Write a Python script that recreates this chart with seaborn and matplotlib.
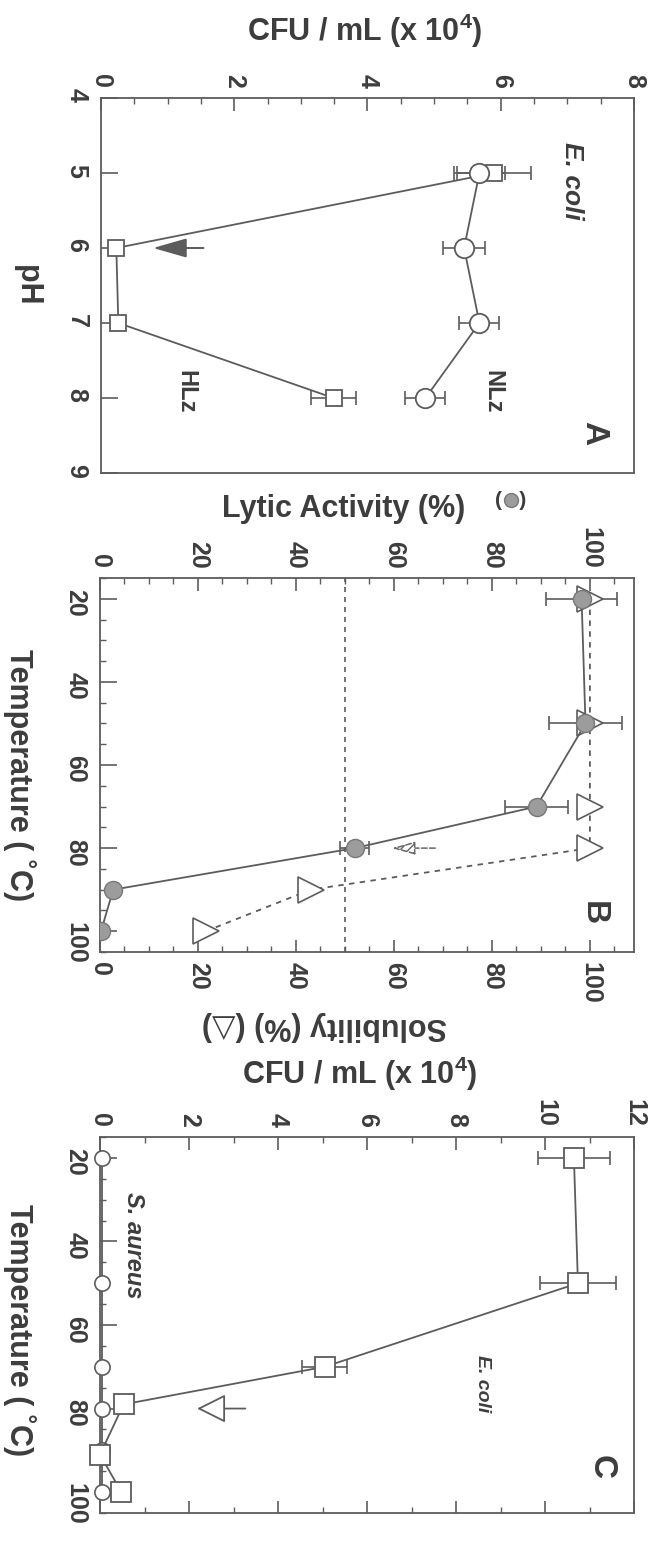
import matplotlib
matplotlib.use('Agg')
import matplotlib.pyplot as plt
import seaborn as sns
from matplotlib.lines import Line2D
from matplotlib.ticker import MultipleLocator

sns.set_style('ticks')
plt.rcParams['font.family'] = ['Liberation Sans', 'DejaVu Sans']
plt.rcParams['font.weight'] = 'bold'
plt.rcParams['mathtext.fontset'] = 'custom'
plt.rcParams['mathtext.rm'] = 'Liberation Sans:bold'
plt.rcParams['mathtext.bf'] = 'Liberation Sans:bold'
plt.rcParams['mathtext.default'] = 'bf'

INK = '#3d3d3d'
LINE = '#5c5c5c'
DOT = '#9c9c9c'

# Panel A : CFU vs pH
ph = [5, 6, 7, 8]
hlz_cfu = [5.90, 0.23, 0.26, 3.49]
hlz_err = [0.55, 0.08, 0.08, 0.34]
nlz_cfu = [5.68, 5.45, 5.68, 4.87]
nlz_err = [0.38, 0.32, 0.30, 0.30]

# Panel B : lytic activity / solubility vs temperature
temp_b = [20, 50, 70, 80, 90, 100]
lytic = [98.3, 99.1, 89.1, 52.0, 2.7, 0.2]
lytic_err = [7.3, 7.4, 6.4, 3.0, 0, 0]
solubility = [100, 100, 100, 100, 43.0, 21.6]

# Panel C : CFU vs temperature
temp_ecoli = [20, 50, 70, 79, 91, 100]
ecoli = [10.65, 10.74, 5.05, 0.53, 0.0, 0.48]
ecoli_err = [0.81, 0.86, 0.5, 0, 0, 0]
temp_saureus = [20, 50, 70, 80, 90, 100]
saureus = [0.05, 0.05, 0.05, 0.05, 0.05, 0.05]

W, H = 650, 1551
fig = plt.figure(figsize=(W / 100, H / 100), dpi=100)

LABEL_SIZE = 22
TICK_SIZE = 18


def box(l, t, r, b):
    return [l / W, 1 - b / H, (r - l) / W, (b - t) / H]


def ftext(x, y, s, **kw):
    kw.setdefault('color', INK)
    kw.setdefault('ha', 'center')
    kw.setdefault('va', 'center')
    fig.text(x / W, 1 - y / H, s, **kw)


def style(ax):
    for s in ax.spines.values():
        s.set_linewidth(1.3)
        s.set_color(LINE)
    ax.tick_params(which='both', direction='in', color=LINE, labelcolor=INK, labelsize=TICK_SIZE)
    ax.tick_params(which='major', length=9, width=1.2)
    ax.tick_params(which='minor', length=4, width=1.0)
    ax.tick_params(axis='x', labelrotation=270, pad=7)
    ax.tick_params(axis='y', labelrotation=270, pad=9)
    ax.set_xlabel('')
    ax.set_ylabel('')


# ---------------- A ----------------
axA = fig.add_axes(box(101, 98, 634, 473))
axA.errorbar(hlz_cfu, ph, xerr=hlz_err, fmt='none', ecolor=LINE, capsize=5, elinewidth=1.2, capthick=1.2, zorder=2)
axA.errorbar(nlz_cfu, ph, xerr=nlz_err, fmt='none', ecolor=LINE, capsize=5, elinewidth=1.2, capthick=1.2, zorder=2)
sns.lineplot(x=hlz_cfu, y=ph, sort=False, estimator=None, ax=axA, color=LINE, lw=1.3,
             marker='s', markersize=12, markerfacecolor='white', markeredgecolor=LINE, markeredgewidth=1.3, zorder=3)
sns.lineplot(x=nlz_cfu, y=ph, sort=False, estimator=None, ax=axA, color=LINE, lw=1.3,
             marker='o', markersize=14, markerfacecolor='white', markeredgecolor=LINE, markeredgewidth=1.3, zorder=3)
axA.annotate('', xy=(0.74, 6), xytext=(1.58, 6),
             arrowprops=dict(arrowstyle='-|>,head_length=1.05,head_width=0.3', mutation_scale=20,
                             color=LINE, lw=1.4))
axA.set_xlim(0, 8)
axA.set_ylim(9, 4)
axA.xaxis.set_major_locator(MultipleLocator(2))
axA.xaxis.set_minor_locator(MultipleLocator(0.5))
axA.yaxis.set_major_locator(MultipleLocator(1))
style(axA)
axA.tick_params(axis='x', which='both', top=True, bottom=False, labeltop=True, labelbottom=False)
axA.tick_params(axis='y', which='both', left=True, right=False)
axA.tick_params(axis='y', which='major', length=12)
axA.text(7.07, 5.1, 'E. coli', rotation=270, style='italic', fontsize=19, color=INK, ha='center', va='center')
axA.text(5.88, 7.92, 'NLz', rotation=270, fontsize=17, color=INK, ha='center', va='center')
axA.text(1.27, 7.92, 'HLz', rotation=270, fontsize=17, color=INK, ha='center', va='center')
axA.text(7.4, 8.47, 'A', rotation=270, fontsize=24, color=INK, ha='center', va='center')
ftext(365, 31, 'CFU / mL (x 10$^{4}$)', fontsize=LABEL_SIZE)
ftext(27, 285, 'pH', rotation=270, fontsize=LABEL_SIZE)

# ---------------- B ----------------
axB = fig.add_axes(box(100, 578, 634, 952))
axB.axvline(50, color=LINE, lw=1.2, ls=(0, (3, 3)), zorder=1)
axB.errorbar(lytic, temp_b, xerr=lytic_err, fmt='none', ecolor=LINE, capsize=5, elinewidth=1.2, capthick=1.2, zorder=2)
sns.lineplot(x=solubility, y=temp_b, sort=False, estimator=None, ax=axB, color=LINE, lw=1.3,
             linestyle=(0, (3, 3)), marker='>', markersize=19, markerfacecolor='white',
             markeredgecolor=LINE, markeredgewidth=1.2, zorder=3)
sns.lineplot(x=lytic, y=temp_b, sort=False, estimator=None, ax=axB, color=LINE, lw=1.3,
             marker='o', markersize=13, markerfacecolor=DOT, markeredgecolor='#777777',
             markeredgewidth=1.0, zorder=4)
axB.annotate('', xy=(59.0, 80), xytext=(69.0, 80),
             arrowprops=dict(arrowstyle='-|>,head_length=0.9,head_width=0.25', mutation_scale=16,
                             color='#666666', lw=1.1, ls='--', hatch='////', fc='white'))
axB.set_xlim(0, 109)
axB.set_ylim(105, 15)
axB.xaxis.set_major_locator(MultipleLocator(20))
axB.xaxis.set_minor_locator(MultipleLocator(5))
axB.yaxis.set_major_locator(MultipleLocator(20))
axB.yaxis.set_minor_locator(MultipleLocator(5))
style(axB)
axB.tick_params(axis='x', which='both', top=True, bottom=True, labeltop=True, labelbottom=True)
axB.tick_params(axis='y', which='both', left=True, right=False)
axB.tick_params(axis='y', which='major', length=12)
axB.text(100.6, 95.7, 'B', rotation=270, fontsize=24, color=INK, ha='center', va='center')
ftext(344, 509, 'Lytic Activity (%)', fontsize=LABEL_SIZE)
ftext(511, 500, '(   )', fontsize=15)
fig.add_artist(Line2D([511 / W], [1 - 500 / H], transform=fig.transFigure, marker='o', markersize=10,
                      markerfacecolor=DOT, markeredgecolor='#777777', linestyle='none'))
ftext(19, 775, 'Temperature ( ˚C)', rotation=270, fontsize=LABEL_SIZE)
ftext(324, 1026, 'Solubility (%) (△)', rotation=180, fontsize=LABEL_SIZE)

# ---------------- C ----------------
axC = fig.add_axes(box(100, 1137, 634, 1513))
axC.errorbar(ecoli, temp_ecoli, xerr=ecoli_err, fmt='none', ecolor=LINE, capsize=5, elinewidth=1.2, capthick=1.2, zorder=2)
sns.lineplot(x=saureus, y=temp_saureus, sort=False, estimator=None, ax=axC, color=LINE, lw=1.3,
             marker='o', markersize=11, markerfacecolor='white', markeredgecolor=LINE, markeredgewidth=1.2,
             zorder=3, clip_on=False)
sns.lineplot(x=ecoli, y=temp_ecoli, sort=False, estimator=None, ax=axC, color=LINE, lw=1.3,
             marker='s', markersize=15, markerfacecolor='white', markeredgecolor=LINE, markeredgewidth=1.3,
             zorder=4, clip_on=False)
axC.annotate('', xy=(2.12, 80), xytext=(3.33, 80),
             arrowprops=dict(arrowstyle='-|>,head_length=0.9,head_width=0.45', mutation_scale=20,
                             ec=LINE, fc='white', lw=1.3))
axC.set_xlim(0, 12)
axC.set_ylim(105, 15)
axC.xaxis.set_major_locator(MultipleLocator(2))
axC.xaxis.set_minor_locator(MultipleLocator(1))
axC.yaxis.set_major_locator(MultipleLocator(20))
axC.yaxis.set_minor_locator(MultipleLocator(5))
style(axC)
axC.tick_params(axis='x', which='both', top=True, bottom=True, labeltop=True, labelbottom=False)
axC.tick_params(axis='y', which='both', left=True, right=False)
axC.tick_params(axis='y', which='major', length=12)
axC.text(8.6, 74, 'E. coli', rotation=270, style='italic', fontsize=14, color=INK, ha='center', va='center')
axC.text(0.76, 41, 'S. aureus', rotation=270, style='italic', fontsize=17, color=INK, ha='center', va='center')
axC.text(11.25, 94, 'C', rotation=270, fontsize=24, color=INK, ha='center', va='center')
ftext(360, 1074, 'CFU / mL (x 10$^{4}$)', fontsize=LABEL_SIZE)
ftext(19, 1330, 'Temperature ( ˚C)', rotation=270, fontsize=LABEL_SIZE)

fig.savefig('out.png', dpi=100, facecolor='white')
